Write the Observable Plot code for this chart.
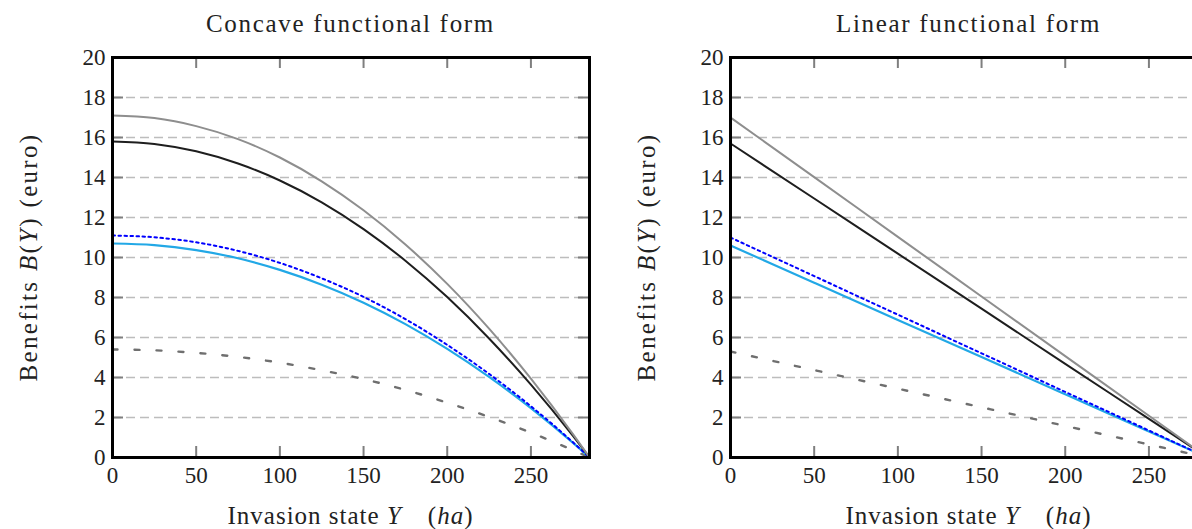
<!DOCTYPE html>
<html><head><meta charset="utf-8">
<script src="https://cdn.jsdelivr.net/npm/d3@7"></script>
<script src="https://cdn.jsdelivr.net/npm/@observablehq/plot@0.6"></script>
<style>
html,body{margin:0;padding:0;background:#fff;overflow:hidden;width:1192px;height:529px;}
#wrap{position:relative;width:1192px;height:529px;overflow:hidden;background:#fff;}
.panel{position:absolute;top:0;width:600px;height:529px;}
.panel svg{max-width:none !important;width:600px;height:529px;}
</style></head><body><div id="wrap"></div>
<script>
// ---------- data ----------
const panelTitles = ["Concave functional form", "Linear functional form"];
const xTicks = [0, 50, 100, 150, 200, 250];
const yTicks = [0, 2, 4, 6, 8, 10, 12, 14, 16, 18, 20];
const yGrid = [2, 4, 6, 8, 10, 12, 14, 16, 18];

// Concave panel
const concaveY      = [0, 25, 50, 75, 100, 125, 150, 175, 200, 225, 250, 275, 285];
const concaveGray   = [17.1, 16.97, 16.57, 15.92, 15.0, 13.81, 12.36, 10.65, 8.68, 6.44, 3.94, 1.18, 0];
const concaveBlack  = [15.8, 15.68, 15.31, 14.7, 13.85, 12.76, 11.42, 9.84, 8.02, 5.95, 3.64, 1.09, 0];
const concaveBlue   = [11.1, 11.01, 10.76, 10.33, 9.73, 8.96, 8.03, 6.92, 5.63, 4.18, 2.56, 0.77, 0];
const concaveCyan   = [10.7, 10.62, 10.37, 9.96, 9.38, 8.64, 7.74, 6.67, 5.43, 4.03, 2.47, 0.74, 0];
const concaveDashed = [5.4, 5.36, 5.23, 5.03, 4.74, 4.36, 3.92, 3.38, 2.74, 2.03, 1.24, 0.37, 0];

// Linear panel
const linearY      = [0, 50, 100, 150, 200, 250, 285];
const linearGray   = [17.0, 14.02, 11.03, 8.05, 5.07, 2.09, 0];
const linearBlack  = [15.7, 12.95, 10.19, 7.44, 4.68, 1.93, 0];
const linearBlue   = [11.0, 9.07, 7.14, 5.21, 3.28, 1.35, 0];
const linearCyan   = [10.6, 8.74, 6.88, 5.02, 3.16, 1.30, 0];
const linearDashed = [5.3, 4.37, 3.44, 2.51, 1.58, 0.65, 0];

const seriesNames = ["gray", "black", "blue", "cyan", "dashed"];
const styles = {
  gray:   {stroke: "#8e8e8e", strokeWidth: 2},
  black:  {stroke: "#1e1e1e", strokeWidth: 2},
  cyan:   {stroke: "#22a8e6", strokeWidth: 2.2},
  blue:   {stroke: "#0000ff", strokeWidth: 2, strokeDasharray: "2.5,3.5"},
  dashed: {stroke: "#6f6f6f", strokeWidth: 2.4, strokeDasharray: "5,17"}
};

function table(Ys, cols) {
  const rows = [];
  seriesNames.forEach((s, i) => Ys.forEach((Y, j) => rows.push({Y, B: cols[i][j], series: s})));
  return rows;
}
const panels = [
  table(concaveY, [concaveGray, concaveBlack, concaveBlue, concaveCyan, concaveDashed]),
  table(linearY, [linearGray, linearBlack, linearBlue, linearCyan, linearDashed])
];

// ---------- layout ----------
const W = 600, H = 529, ML = 112, MR = 11, MT = 57, MB = 72;
const FW = W - ML - MR, FH = H - MT - MB, TICK = 11;
const font = "'Liberation Serif', 'Times New Roman', serif";
const panelLeft = [0, 618];
const tickCol = {stroke: "#7f7f7f", strokeWidth: 2};

panels.forEach((rows, p) => {
  const lineMarks = ["dashed", "cyan", "blue", "black", "gray"].map(s =>
    Plot.line(rows.filter(d => d.series === s), {x: "Y", y: "B", curve: "monotone-x", ...styles[s]}));
  const chart = Plot.plot({
    width: W, height: H,
    marginLeft: ML, marginRight: MR, marginTop: MT, marginBottom: MB,
    x: {domain: [0, 285]},
    y: {domain: [0, 20]},
    style: {fontFamily: font, fontSize: "23px", color: "#222", background: "white", overflow: "visible"},
    marks: [
      Plot.ruleY(yGrid, {stroke: "#bdbdbd", strokeWidth: 1.6, strokeDasharray: "9,5"}),
      ...lineMarks,
      Plot.tickY(yTicks, {...tickCol, insetRight: FW - TICK}),
      Plot.tickY(yTicks, {...tickCol, insetLeft: FW - TICK}),
      Plot.tickX(xTicks, {...tickCol, insetTop: FH - TICK}),
      Plot.tickX(xTicks, {...tickCol, insetBottom: FH - TICK}),
      Plot.axisY(yTicks, {anchor: "left", tickSize: 0, tickPadding: 7, label: null, fill: "#222", fontSize: 23}),
      Plot.axisX(xTicks, {anchor: "bottom", tickSize: 0, tickPadding: 9, label: null, fill: "#222", fontSize: 23}),
      Plot.frame({stroke: "black", strokeWidth: 3})
    ]
  });
  const div = document.createElement("div");
  div.className = "panel";
  div.style.left = panelLeft[p] + "px";
  div.appendChild(chart);
  document.getElementById("wrap").appendChild(div);

  const svg = d3.select(chart);
  const cx = (ML + (W - MR)) / 2;
  const txt = (sel, ls) => sel.attr("font-family", font).attr("font-size", 25).attr("fill", "#222")
                          .attr("letter-spacing", ls);
  // title
  txt(svg.append("text"), "1.7px").attr("x", cx).attr("y", 23).attr("text-anchor", "middle")
     .attr("dominant-baseline", "central").text(panelTitles[p]);
  // x label
  const xl = txt(svg.append("text"), "1px").attr("x", cx).attr("y", 515).attr("text-anchor", "middle")
     .attr("dominant-baseline", "central");
  xl.append("tspan").text("Invasion state ");
  xl.append("tspan").attr("font-style", "italic").text("Y");
  xl.append("tspan").text("\u2003(");
  xl.append("tspan").attr("font-style", "italic").text("ha");
  xl.append("tspan").text(")");
  // y label
  const yl = txt(svg.append("text"), "2.3px").attr("transform", `translate(28,${(MT + H - MB) / 2}) rotate(-90)`)
     .attr("text-anchor", "middle").attr("dominant-baseline", "central");
  yl.append("tspan").text("Benefits ");
  yl.append("tspan").attr("font-style", "italic").text("B");
  yl.append("tspan").text("(");
  yl.append("tspan").attr("font-style", "italic").text("Y");
  yl.append("tspan").text(") (euro)");
});
</script>
</body></html>
